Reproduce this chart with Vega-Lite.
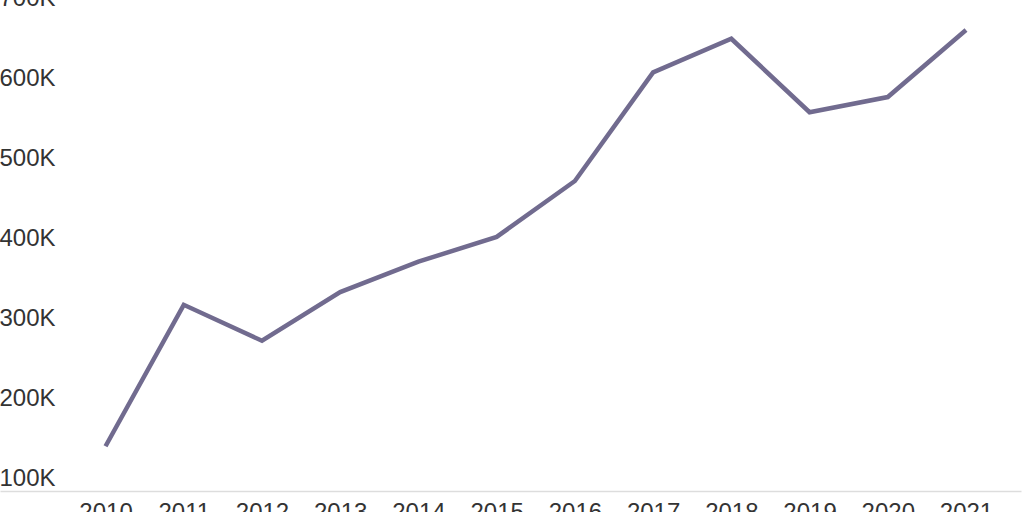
{
  "$schema": "https://vega.github.io/schema/vega-lite/v6.json",
  "autosize": {"type": "none"},
  "padding": {"left": 0, "top": 0, "right": 3, "bottom": 21},
  "width": 1021,
  "height": 491,
  "background": "white",
  "config": {"view": {"stroke": null}},
  "data": {"values": [
    {"year": 2010, "value": 156000},
    {"year": 2011, "value": 333000},
    {"year": 2012, "value": 288000},
    {"year": 2013, "value": 349000},
    {"year": 2014, "value": 387000},
    {"year": 2015, "value": 418000},
    {"year": 2016, "value": 488000},
    {"year": 2017, "value": 624000},
    {"year": 2018, "value": 666000},
    {"year": 2019, "value": 574000},
    {"year": 2020, "value": 593000},
    {"year": 2021, "value": 677000}
  ]},
  "mark": {"type": "line", "color": "#716b8f", "strokeWidth": 4.5},
  "encoding": {
    "x": {
      "field": "year", "type": "quantitative",
      "scale": {"domain": [2008.651, 2021.703], "nice": false, "zero": false},
      "axis": {
        "title": null, "values": [2010,2011,2012,2013,2014,2015,2016,2017,2018,2019,2020,2021],
        "format": "d", "grid": false, "ticks": false, "tickSize": 0,
        "domainColor": "#dddddd", "domainWidth": 1.5,
        "labelFont": "Liberation Sans", "labelFontSize": 24, "labelColor": "#333333",
        "labelPadding": 9, "labelFlush": false, "labelOverlap": false
      }
    },
    "y": {
      "field": "value", "type": "quantitative",
      "scale": {"domain": [100000, 714500], "nice": false, "zero": false},
      "axis": {
        "title": null, "values": [100000,200000,300000,400000,500000,600000,700000],
        "labelExpr": "format(datum.value/1000, 'd') + 'K'",
        "grid": false, "ticks": false, "tickSize": 0, "domain": false,
        "labelAlign": "left", "labelBaseline": "alphabetic", "labelOffset": -6,
        "labelPadding": 1, "labelFlush": false, "labelOverlap": false,
        "labelFont": "Liberation Sans", "labelFontSize": 24, "labelColor": "#333333"
      }
    }
  }
}
